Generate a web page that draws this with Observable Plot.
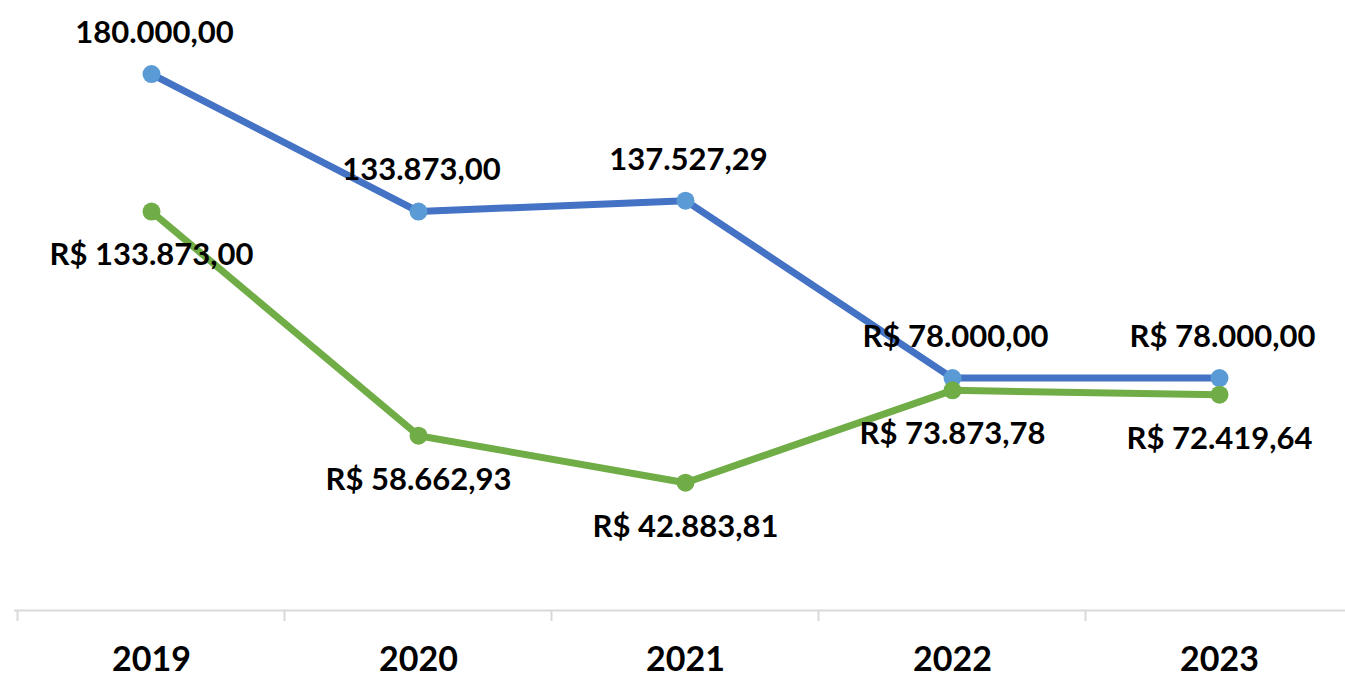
<!DOCTYPE html>
<html>
<head>
<meta charset="utf-8">
<script src="https://cdn.jsdelivr.net/npm/d3@7"></script>
<script src="https://cdn.jsdelivr.net/npm/@observablehq/plot@0.6"></script>
<style>
  html, body { margin: 0; padding: 0; background: #ffffff; overflow: hidden; }
  svg { display: block; }
</style>
</head>
<body>
<div id="chart"></div>
<script>
const years = ["2019", "2020", "2021", "2022", "2023"];
const blueValues = [180000, 133873, 137527.29, 78000, 78000];
const greenValues = [133873, 58662.93, 42883.81, 73873.78, 72419.64];
const blueLabels = ["180.000,00", "133.873,00", "137.527,29", "R$ 78.000,00", "R$ 78.000,00"];
const greenLabels = ["R$ 133.873,00", "R$ 58.662,93", "R$ 42.883,81", "R$ 73.873,78", "R$ 72.419,64"];

const blue = years.map((y, i) => ({year: y, value: blueValues[i], label: blueLabels[i]}));
const green = years.map((y, i) => ({year: y, value: greenValues[i], label: greenLabels[i]}));

const W = 1345, H = 677;
const FONT = "Lato, 'Open Sans', sans-serif";

// band boundary ticks drawn from the x scale
function boundaryTicks(index, scales, values, dims) {
  const g = d3.create("svg:g");
  const xs = years.map(y => scales.x(y));
  const step = xs.length > 1 ? xs[1] - xs[0] : 0;
  const y0 = scales.y(0);
  const bounds = xs.map(x => x - step / 2);
  bounds.forEach(b => {
    g.append("line")
      .attr("x1", b).attr("x2", b)
      .attr("y1", y0).attr("y2", y0 + 11)
      .attr("stroke", "#d9d9d9").attr("stroke-width", 2);
  });
  return g.node();
}

const chart = Plot.plot({
  width: W,
  height: H,
  marginLeft: 14,
  marginRight: 0,
  marginTop: 14,
  marginBottom: 67,
  style: {fontFamily: FONT, background: "#ffffff"},
  x: {type: "point", domain: years, range: [15, 1354], padding: 0.5},
  y: {domain: [0, 200000], axis: null},
  marks: [
    Plot.ruleY([0], {stroke: "#d9d9d9", strokeWidth: 2}),
    boundaryTicks,
    Plot.axisX({tickSize: 0, tickPadding: 36, fontSize: 34, fontWeight: "bold", fill: "#000", label: null, fontFamily: FONT}),
    Plot.line(blue, {x: "year", y: "value", stroke: "#4472C4", strokeWidth: 7, strokeLinejoin: "round"}),
    Plot.dot(blue, {x: "year", y: "value", r: 9, fill: "#5B9BD5"}),
    Plot.line(green, {x: "year", y: "value", stroke: "#70AD47", strokeWidth: 7, strokeLinejoin: "round"}),
    Plot.dot(green, {x: "year", y: "value", r: 9, fill: "#70AD47"}),
    Plot.text(blue, {x: "year", y: "value", text: "label", dy: -41, dx: 3, fontSize: 31, fontWeight: "bold", fill: "#000", fontFamily: FONT}),
    Plot.text(green, {x: "year", y: "value", text: "label", dy: 44, dx: 0, fontSize: 31, fontWeight: "bold", fill: "#000", fontFamily: FONT})
  ]
});

document.getElementById("chart").appendChild(chart);
</script>
</body>
</html>
